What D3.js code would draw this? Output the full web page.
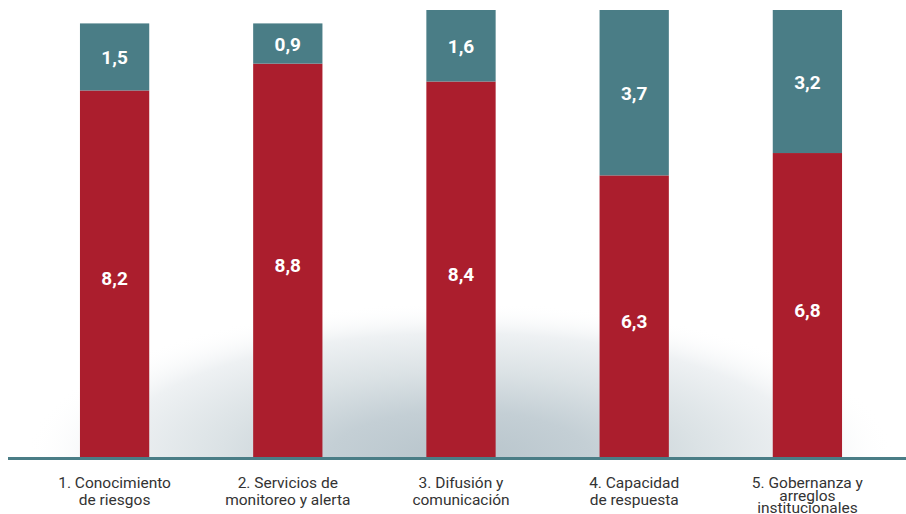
<!DOCTYPE html>
<html>
<head>
<meta charset="utf-8">
<script src="https://cdn.jsdelivr.net/npm/d3@7"></script>
<style>
  html, body { margin: 0; padding: 0; background: #fff; }
  svg { display: block; }
</style>
</head>
<body>
<svg id="chart" width="906" height="514"></svg>
<script>
const categories = [
  ["1. Conocimiento", "de riesgos"],
  ["2. Servicios de", "monitoreo y alerta"],
  ["3. Difusión y", "comunicación"],
  ["4. Capacidad", "de respuesta"],
  ["5. Gobernanza y", "arreglos", "institucionales"]
];
const redValues = [8.2, 8.8, 8.4, 6.3, 6.8];
const tealValues = [1.5, 0.9, 1.6, 3.7, 3.2];
const fmt = v => v.toFixed(1).replace(".", ",");

const RED = "#ab1e2d", TEAL = "#4a7d86";
const svg = d3.select("#chart");
const W = 906, H = 514;
const baseY = 457;

const x = d3.scaleBand().domain(d3.range(categories.length)).range([28, 894])
  .paddingInner(0.6).paddingOuter(0.3);
const y = d3.scaleLinear().domain([0, 10]).range([baseY, 10]);

// background glow
const defs = svg.append("defs");
const grad = defs.append("radialGradient").attr("id", "glow");
[[0, "#b7c4cb", 1], [0.3, "#c4cfd5", 1], [0.55, "#dbe2e5", 1], [0.8, "#eef1f3", 1], [1, "#ffffff", 0]]
  .forEach(([o, c, a]) => grad.append("stop").attr("offset", o).attr("stop-color", c).attr("stop-opacity", a));
defs.append("clipPath").attr("id", "clipTop").append("rect")
  .attr("x", 0).attr("y", 0).attr("width", W).attr("height", baseY);
svg.append("ellipse")
  .attr("cx", 460).attr("cy", baseY).attr("rx", 435).attr("ry", 155)
  .attr("fill", "url(#glow)").attr("clip-path", "url(#clipTop)");

const data = categories.map((c, i) => ({ i, c, red: redValues[i], teal: tealValues[i] }));

const g = svg.append("g");
g.selectAll("rect.red").data(data).join("rect").attr("class", "red")
  .attr("x", d => x(d.i)).attr("width", x.bandwidth())
  .attr("y", d => y(d.red)).attr("height", d => y(0) - y(d.red))
  .attr("fill", RED);
g.selectAll("rect.teal").data(data).join("rect").attr("class", "teal")
  .attr("x", d => x(d.i)).attr("width", x.bandwidth())
  .attr("y", d => y(d.red + d.teal)).attr("height", d => y(d.red) - y(d.red + d.teal))
  .attr("fill", TEAL);

const labelStyle = sel => sel.attr("text-anchor", "middle")
  .attr("font-family", "Roboto, 'Open Sans', sans-serif")
  .attr("font-weight", 700).attr("font-size", 19).attr("fill", "#fff")
  .attr("dominant-baseline", "central");

g.selectAll("text.redlab").data(data).join("text").attr("class", "redlab")
  .attr("x", d => x(d.i) + x.bandwidth() / 2)
  .attr("y", d => (y(0) + y(d.red)) / 2 + 5)
  .text(d => fmt(d.red)).call(labelStyle);
g.selectAll("text.teallab").data(data).join("text").attr("class", "teallab")
  .attr("x", d => x(d.i) + x.bandwidth() / 2)
  .attr("y", d => (y(d.red) + y(d.red + d.teal)) / 2 + 1)
  .text(d => fmt(d.teal)).call(labelStyle);

// baseline axis
svg.append("rect").attr("x", 8).attr("y", baseY).attr("width", W - 8).attr("height", 3)
  .attr("fill", "#4a7d86");

// category labels
const cat = svg.append("g").selectAll("text").data(data).join("text")
  .attr("text-anchor", "middle")
  .attr("font-family", "Roboto, 'Open Sans', sans-serif")
  .attr("font-size", 15.5).attr("fill", "#333")
  .attr("x", d => x(d.i) + x.bandwidth() / 2)
  .attr("y", 488);
cat.each(function (d) {
  const lh = d.c.length > 2 ? 12.5 : 16.5;
  d3.select(this).selectAll("tspan").data(d.c).join("tspan")
    .attr("x", x(d.i) + x.bandwidth() / 2)
    .attr("dy", (t, k) => k === 0 ? 0 : lh)
    .text(t => t);
});
</script>
</body>
</html>
